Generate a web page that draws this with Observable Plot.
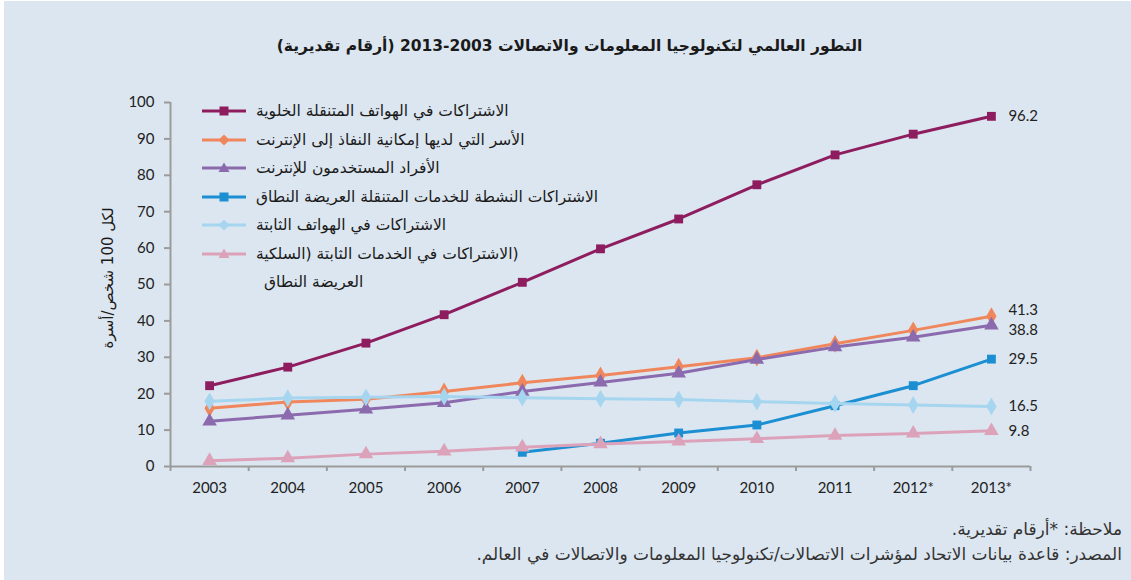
<!DOCTYPE html>
<html>
<head>
<meta charset="utf-8">
<script src="https://cdn.jsdelivr.net/npm/d3@7"></script>
<script src="https://cdn.jsdelivr.net/npm/@observablehq/plot@0.6"></script>
<style>
  html, body { margin: 0; padding: 0; background: #ffffff; width: 1131px; height: 580px; overflow: hidden; }
  #bg { position: absolute; left: 4px; top: 1px; width: 1127px; height: 579px; background: #dce6f0; }
  #title { position: absolute; left: 4px; width: 1131px; top: 37px; text-align: center; font-family: "DejaVu Sans", sans-serif; font-weight: bold; font-size: 15.5px; color: #1a1a1a; direction: rtl; }
  #chart { position: absolute; left: 0; top: 0; }
  #legend { position: absolute; left: 202px; top: 0; font-family: "DejaVu Sans", serif; font-size: 15.5px; color: #1a1a1a; }
  .row { position: absolute; left: 0; height: 22px; display: flex; align-items: center; white-space: nowrap; }
  .row svg { flex: none; }
  .row span { margin-left: 10px; }
  #ytitle { position: absolute; left: 108px; top: 278px; transform: translate(-50%, -50%) rotate(-90deg); font-family: "DejaVu Sans", serif; font-size: 15px; color: #1a1a1a; white-space: nowrap; direction: rtl; }
  #foot { position: absolute; right: 9px; top: 517px; text-align: right; direction: rtl; font-family: "DejaVu Sans", serif; font-size: 17px; line-height: 25px; color: #333; white-space: nowrap; }
</style>
</head>
<body>
<div id="bg"></div>
<div id="title">التطور العالمي لتكنولوجيا المعلومات والاتصالات <span dir="ltr" style="unicode-bidi: isolate">2013-2003</span> (أرقام تقديرية)</div>
<div id="chart"></div>
<div id="legend"></div>
<div id="ytitle">لكل 100 شخص/أسرة</div>
<div id="foot">ملاحظة: *أرقام تقديرية.<br>المصدر: قاعدة بيانات الاتحاد لمؤشرات الاتصالات/تكنولوجيا المعلومات والاتصالات في العالم.</div>
<script>
// ---- data ----
const years = [2003, 2004, 2005, 2006, 2007, 2008, 2009, 2010, 2011, 2012, 2013];
const xLabels = ["2003", "2004", "2005", "2006", "2007", "2008", "2009", "2010", "2011", "2012*", "2013*"];
const yTicks = [0, 10, 20, 30, 40, 50, 60, 70, 80, 90, 100];
const seriesNames = [
  "الاشتراكات في الهواتف المتنقلة الخلوية",
  "الأسر التي لديها إمكانية النفاذ إلى الإنترنت",
  "الأفراد المستخدمون للإنترنت",
  "الاشتراكات النشطة للخدمات المتنقلة العريضة النطاق",
  "الاشتراكات في الهواتف الثابتة",
  "(الاشتراكات في الخدمات الثابتة (السلكية"
];
const legendExtraLine = "العريضة النطاق";
const mobileSubs          = [22.2, 27.3, 33.9, 41.7, 50.6, 59.8, 68.0, 77.4, 85.6, 91.3, 96.2];
const householdsInternet  = [16.0, 17.7, 18.5, 20.6, 23.0, 25.0, 27.4, 29.9, 33.7, 37.4, 41.3];
const individualsInternet = [12.4, 14.1, 15.7, 17.5, 20.6, 23.1, 25.6, 29.4, 32.8, 35.5, 38.8];
const mobileBroadband     = [null, null, null, null, 3.9, 6.4, 9.2, 11.4, 16.7, 22.2, 29.5];
const fixedTelephone      = [17.9, 18.8, 19.0, 19.2, 18.9, 18.6, 18.4, 17.8, 17.3, 16.9, 16.5];
const fixedBroadband      = [1.6, 2.3, 3.4, 4.2, 5.3, 6.2, 6.9, 7.6, 8.5, 9.1, 9.8];

// ---- styles ----
const seriesValues = [mobileSubs, householdsInternet, individualsInternet, mobileBroadband, fixedTelephone, fixedBroadband];
const colors = ["#8e1d5f", "#f0875c", "#8b6bae", "#1b8fd1", "#a6d6ef", "#dca2ba"];
const symbols = ["square", "diamond", "triangle", "square", "diamond", "triangle"];
const labelDy = [0, -6, 5, 0, 0, 0];

const rows = [];
seriesValues.forEach((vals, i) => {
  vals.forEach((v, j) => { if (v != null) rows.push({series: i, year: years[j], value: v}); });
});

const marks = [
  Plot.ruleY([0], {stroke: "#9b9b9b", strokeWidth: 2}),
  Plot.ruleX([2002.5], {stroke: "#9b9b9b", strokeWidth: 2}),
  Plot.axisX({ticks: d3.range(2002.5, 2014, 1), tickSize: 5, tickFormat: () => "", stroke: "#9b9b9b", strokeWidth: 2, label: null}),
  Plot.axisX({ticks: years, tickSize: 0, tickPadding: 16, tickFormat: d => xLabels[years.indexOf(d)], fill: "#222", fontSize: 15, label: null}),
  Plot.axisY({ticks: yTicks, tickSize: 6, tickPadding: 10, stroke: "#9b9b9b", strokeWidth: 2, fill: "#222", fontSize: 15, label: null})
];
seriesValues.forEach((vals, i) => {
  const d = rows.filter(r => r.series === i);
  marks.push(Plot.line(d, {x: "year", y: "value", stroke: colors[i], strokeWidth: 3}));
  marks.push(Plot.dot(d, {x: "year", y: "value", symbol: () => symbols[i], fill: colors[i], r: symbols[i] === "square" ? 5 : 5.4, stroke: "none"}));
  const last = d.filter(r => r.year === years[years.length - 1]);
  marks.push(Plot.text(last, {x: "year", y: "value", text: r => r.value.toFixed(1), textAnchor: "start", dx: 17, dy: labelDy[i], fill: "#222", fontSize: 15}));
});

const chart = Plot.plot({
  width: 1131,
  height: 500,
  marginLeft: 170,
  marginRight: 101,
  marginTop: 102,
  marginBottom: 34,
  style: {fontFamily: "Lato, 'Open Sans', sans-serif", fontSize: "15px", background: "transparent", overflow: "visible"},
  x: {domain: [2002.5, 2013.5], axis: null, label: null},
  y: {domain: [0, 100], axis: null, label: null},
  symbol: {type: "identity"},
  marks
});
document.getElementById("chart").appendChild(chart);

// ---- legend ----
const legend = document.getElementById("legend");
const rowY = [111, 139.5, 168, 196.5, 225, 253.5];
function markerSvg(i) {
  const c = colors[i];
  let shape;
  if (symbols[i] === "square") shape = `<rect x="17.5" y="2.5" width="9" height="9" fill="${c}"/>`;
  else if (symbols[i] === "diamond") shape = `<path d="M22,1.5 L27.5,7 L22,12.5 L16.5,7 Z" fill="${c}"/>`;
  else shape = `<path d="M22,1.5 L27.5,11 L16.5,11 Z" fill="${c}"/>`;
  return `<svg width="44" height="14"><line x1="0" y1="7" x2="44" y2="7" stroke="${c}" stroke-width="3"/>${shape}</svg>`;
}
seriesNames.forEach((name, i) => {
  const row = document.createElement("div");
  row.className = "row";
  row.style.top = (rowY[i] - 11) + "px";
  row.innerHTML = markerSvg(i) + `<span>\u202B${name}\u202C</span>`;
  legend.appendChild(row);
});
const extra = document.createElement("div");
extra.className = "row";
extra.style.top = (282 - 11) + "px";
extra.style.left = "62px";
extra.innerHTML = `<span style="margin-left:0">${legendExtraLine}</span>`;
legend.appendChild(extra);
</script>
</body>
</html>
